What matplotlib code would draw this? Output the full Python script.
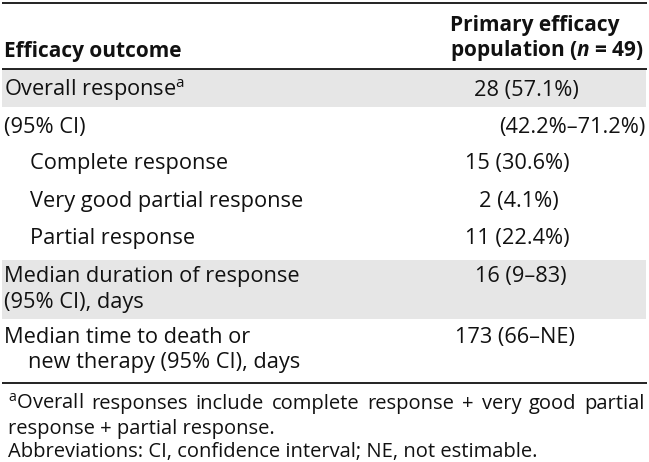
import matplotlib
matplotlib.use("Agg")
import matplotlib.pyplot as plt
from matplotlib.patches import Rectangle

plt.rcParams['font.family'] = ['Open Sans', 'DejaVu Sans']
plt.rcParams['mathtext.fontset'] = 'custom'
plt.rcParams['mathtext.rm'] = 'Open Sans'
plt.rcParams['mathtext.it'] = 'Open Sans:italic'
plt.rcParams['mathtext.bf'] = 'Open Sans:bold'
plt.rcParams['mathtext.bfit'] = 'Open Sans:italic:bold'

# table content
header_left = "Efficacy outcome"
header_right = ["Primary efficacy", r"population ($\mathbfit{n}$ = 49)"]

row_labels = [
    [r"Overall response$^{\mathrm{a}}$"],
    ["(95% CI)"],
    ["Complete response"],
    ["Very good partial response"],
    ["Partial response"],
    ["Median duration of response", "(95% CI), days"],
    ["Median time to death or", "new therapy (95% CI), days"],
]
row_values = ["28 (57.1%)", "(42.2%\u201371.2%)", "15 (30.6%)", "2 (4.1%)",
              "11 (22.4%)", "16 (9\u201383)", "173 (66\u2013NE)"]

footnote_1 = r"$^{\mathrm{a}}$Overall responses include complete response + very good partial"
footnote_2 = "response + partial response."
footnote_3 = "Abbreviations: CI, confidence interval; NE, not estimable."

# layout (pixels)
W, H = 649, 462
label_x = [[4], [4], [30], [30], [30], [4, 4], [4, 28]]
label_base = [[96], [133], [169], [207], [244], [282, 308], [343, 368]]
value_cx = [526, None, 517, 519, 517, 521, 515]
shaded = [True, False, False, False, False, True, False]
band = [(69, 107), None, None, None, None, (260, 319), None]

fig = plt.figure(figsize=(W / 100, H / 100), dpi=100)
ax = fig.add_axes([0, 0, 1, 1])
ax.set_xlim(0, W)
ax.set_ylim(H, 0)
ax.axis('off')
fig.canvas.draw()
r = fig.canvas.get_renderer()


def fit_size(s, target, **kw):
    # font size so that string s is target pixels wide
    t = ax.text(0, 0, s, fontsize=10, **kw)
    w = t.get_window_extent(r).width
    t.remove()
    return 10 * target / w


fs_body = fit_size("new therapy (95% CI), days", 272)
fs_head = fit_size(header_right[1], 195, fontweight='bold')
fs_note = fit_size(footnote_3, 528)

# shaded rows
for i, s in enumerate(shaded):
    if s:
        y0, y1 = band[i]
        ax.add_patch(Rectangle((2, y0), 644, y1 - y0, color='#e6e6e6', lw=0, zorder=0))

# rules
for y in [3, 68.5, 383]:
    ax.plot([2, 647], [y, y], color='#111111', lw=1.3, solid_capstyle='butt')

base = dict(va='baseline', color='#111111')

# header
ax.text(4, 57, header_left, fontweight='bold', fontsize=fs_head, **base)
ax.text(450, 31, header_right[0], fontweight='bold', fontsize=fs_head, **base)
ax.text(450, 56, header_right[1], fontweight='bold', fontsize=fs_head, **base)

# rows
for i, lines in enumerate(row_labels):
    for j, line in enumerate(lines):
        ax.text(label_x[i][j], label_base[i][j], line, fontsize=fs_body, **base)
    if value_cx[i] is None:
        ax.text(645, label_base[i][0], row_values[i], ha='right', fontsize=fs_body, **base)
    else:
        ax.text(value_cx[i], label_base[i][0], row_values[i], ha='center', fontsize=fs_body, **base)

# footnotes; first line justified
words = footnote_1.split(' ')
arts = [ax.text(0, 409, w, fontsize=fs_note, **base) for w in words]
widths = [a.get_window_extent(r).width for a in arts]
gap = (645 - 8 - sum(widths)) / (len(words) - 1)
x = 8
for a, w in zip(arts, widths):
    a.set_x(x)
    x += w + gap
ax.text(8, 434, footnote_2, fontsize=fs_note, **base)
ax.text(8, 457, footnote_3, fontsize=fs_note, **base)

fig.savefig('out.png', dpi=100)
